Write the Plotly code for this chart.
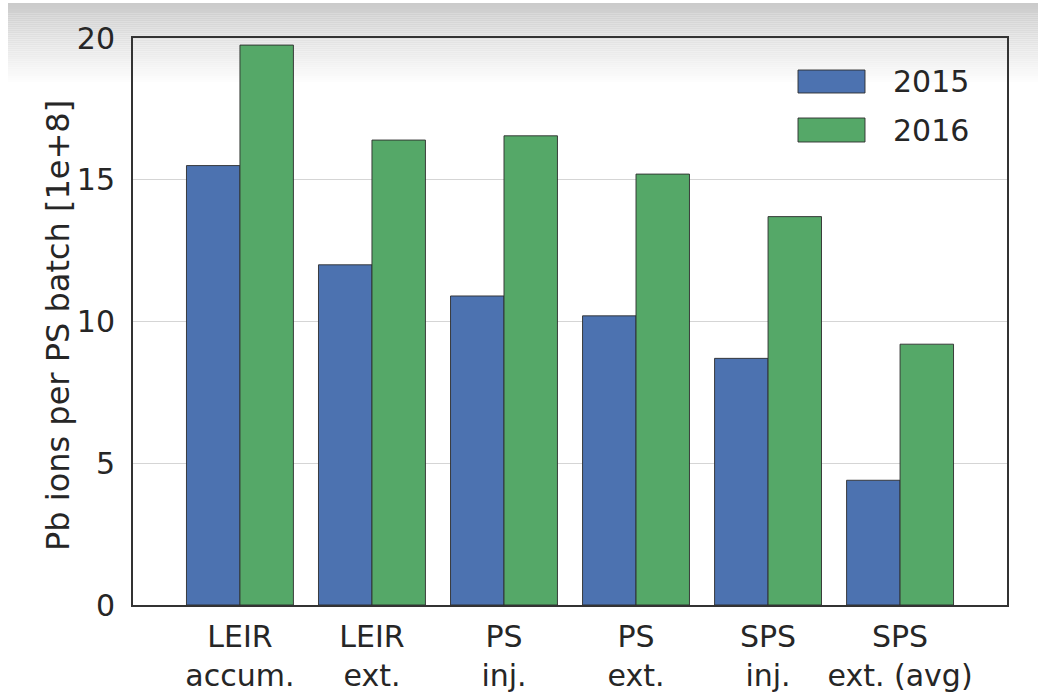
import plotly.graph_objects as go

# Pb ion intensity per PS batch along the injector chain
stages = ["LEIR<br>accum.", "LEIR<br>ext.", "PS<br>inj.", "PS<br>ext.", "SPS<br>inj.", "SPS<br>ext. (avg)"]
years = ["2015", "2016"]
ions_2015 = [15.5, 12.0, 10.9, 10.2, 8.7, 4.4]
ions_2016 = [19.75, 16.4, 16.55, 15.2, 13.7, 9.2]
y_ticks = [0, 5, 10, 15, 20]

colors = {"2015": "#4C72B0", "2016": "#55A868"}
edge = "rgba(45,45,45,0.9)"
text_color = "#262626"
font_family = "DejaVu Sans"

W, H = 1038, 693
L, R, T, B = 133, 31, 38, 88
pw, ph = W - L - R, H - T - B


def px_to_paper(px, py):
    return (px - L) / pw, (H - B - py) / ph


fig = go.Figure()
for year, vals in zip(years, [ions_2015, ions_2016]):
    fig.add_trace(go.Bar(
        x=stages, y=vals, name=year,
        marker=dict(color=colors[year], line=dict(color=edge, width=1)),
        showlegend=False,
    ))

shapes = []
annotations = []

# soft grey band along the top of the page
top_px, bot_px = 3, 84
steps = 40
for i in range(steps):
    y0p = top_px + (bot_px - top_px) * i / steps
    y1p = top_px + (bot_px - top_px) * (i + 1) / steps
    g = int(203 + (255 - 203) * (i / (steps - 1)))
    x0, y0 = px_to_paper(8, y0p)
    x1, y1 = px_to_paper(W, y1p)
    shapes.append(dict(type="rect", xref="paper", yref="paper",
                       x0=x0, x1=x1, y0=y1, y1=y0,
                       fillcolor=f"rgb({g},{g},{g})", line=dict(width=0),
                       layer="below"))

# legend drawn with wide swatches
legend_rows = [(years[0], 70, 93), (years[1], 118, 142)]
for year, ytop, ybot in legend_rows:
    x0, y0 = px_to_paper(798, ybot)
    x1, y1 = px_to_paper(865, ytop)
    shapes.append(dict(type="rect", xref="paper", yref="paper",
                       x0=x0, x1=x1, y0=y0, y1=y1,
                       fillcolor=colors[year], line=dict(color=edge, width=1)))
    tx, ty = px_to_paper(891, (ytop + ybot) / 2)
    annotations.append(dict(xref="paper", yref="paper", x=tx, y=ty,
                            text=year, showarrow=False, xanchor="left", yanchor="middle",
                            font=dict(size=30, color=text_color, family=font_family)))

# y-axis title
tx, ty = px_to_paper(58, 326)
annotations.append(dict(xref="paper", yref="paper", x=tx, y=ty,
                        text="Pb ions per PS batch [1e+8]", textangle=-90,
                        showarrow=False, xanchor="center", yanchor="middle",
                        font=dict(size=32, color=text_color, family=font_family)))

fig.update_layout(
    width=W, height=H,
    margin=dict(l=L, r=R, t=T, b=B, pad=0),
    paper_bgcolor="white",
    plot_bgcolor="rgba(0,0,0,0)",
    barmode="group", bargap=0.19, bargroupgap=0,
    font=dict(family=font_family, size=30, color=text_color),
    shapes=shapes, annotations=annotations,
    showlegend=False,
)
fig.update_xaxes(
    range=[-0.81, 5.81], showgrid=False, ticks="", zeroline=False,
    showline=True, mirror=True, linecolor="#333333", linewidth=2,
    automargin=False, ticklabelstandoff=4,
    tickfont=dict(size=30, color=text_color, family=font_family),
)
fig.update_yaxes(
    range=[0, 20], tickvals=y_ticks, ticktext=[str(v) for v in y_ticks],
    showgrid=True, gridcolor="#d5d5d5", gridwidth=1, zeroline=False, ticks="",
    showline=True, mirror=True, linecolor="#333333", linewidth=2,
    automargin=False, ticklabelstandoff=10,
    tickfont=dict(size=30, color=text_color, family=font_family),
)

fig.write_html("out.html")
